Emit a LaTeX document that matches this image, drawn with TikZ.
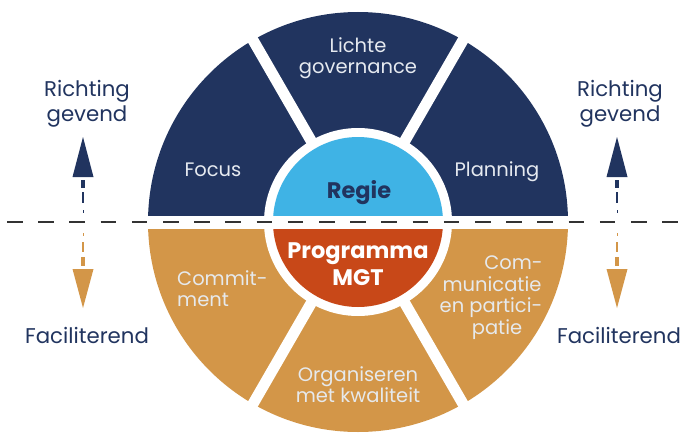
\documentclass[tikz,border=0pt]{standalone}
\usepackage{fontspec}
\setmainfont{Poppins}
\definecolor{navy}{HTML}{21345F}
\definecolor{lblue}{HTML}{3FB3E5}
\definecolor{ored}{HTML}{C84818}
\definecolor{tan}{HTML}{D39648}
\definecolor{ltxt}{HTML}{E6EAF0}
\definecolor{ttxt}{HTML}{E6E9EC}
\definecolor{dashgray}{HTML}{333333}
\begin{document}
\begin{tikzpicture}[x=1pt,y=1pt,
  seclab/.style={font=\fontsize{19.5}{19.5}\selectfont, anchor=base, inner sep=0},
  boldlab/.style={font=\fontsize{22.5}{22.5}\selectfont\bfseries, anchor=base, inner sep=0},
  sidelab/.style={font=\fontsize{21.3}{21.3}\selectfont, text=navy, anchor=base, inner sep=0}]
\useasboundingbox (0,0) rectangle (687,432);
\coordinate (C) at (358,210);
% halves
\begin{scope}
  \clip (0,217) rectangle (687,432);
  \fill[navy] (C) circle (210);
\end{scope}
\begin{scope}
  \clip (0,0) rectangle (687,203);
  \fill[tan] (C) circle (210);
\end{scope}
\foreach \a in {60,120,240,300} \draw[white,line width=11pt] (C) -- ++(\a:215);
\fill[white] (C) circle (94);
\begin{scope}
  \clip (0,217) rectangle (687,432);
  \fill[lblue] (C) circle (85);
\end{scope}
\begin{scope}
  \clip (0,0) rectangle (687,203);
  \fill[ored] (C) circle (85);
\end{scope}
% dashed line
\coordinate (dl) at (7,210);
\coordinate (dr) at (678,210);
\draw[dashgray, line width=2pt, dash pattern=on 15.5pt off 15.7pt] (dl) -- (dr);
% sector labels
\node[seclab, text=ltxt] (l1) at (358,379) {Lichte};
\node[seclab, text=ltxt] (l2) at (358,358) {governance};
\node[seclab, text=ltxt] (foc) at (213,256) {Focus};
\node[seclab, text=ltxt] (pla) at (497,256) {Planning};
\node[boldlab, text=navy] (reg) at (359,234) {Regie};
\node[boldlab, text=white] (pr1) at (358,173.7) {Programma};
\node[boldlab, text=white] (pr2) at (358,147) {MGT};
\node[seclab, text=ttxt, anchor=base west] (co1) at (177,147) {Commit-};
\node[seclab, text=ttxt, anchor=base west] (co2) at (177,125.3) {ment};
\node[seclab, text=ttxt] (cm1) at (513.5,162.7) {Com-};
\node[seclab, text=ttxt] (cm2) at (492,141) {municatie};
\node[seclab, text=ttxt] (cm3) at (491,119.3) {en partici-};
\node[seclab, text=ttxt] (cm4) at (497,98) {patie};
\node[seclab, text=ttxt] (or1) at (358,51) {Organiseren};
\node[seclab, text=ttxt] (or2) at (358,29.3) {met kwaliteit};
% side labels
\node[sidelab] (rl1) at (87,336) {Richting};
\node[sidelab] (rl2) at (87,311) {gevend};
\node[sidelab] (fl) at (87,89) {Faciliterend};
\node[sidelab] (rr1) at (620,336) {Richting};
\node[sidelab] (rr2) at (620,311) {gevend};
\node[sidelab] (fr) at (619,89) {Faciliterend};
% arrows
\foreach \x in {83,617}{
  \fill[navy] (\x,295) -- (\x-10.5,255) -- (\x+10.5,255) -- cycle;
  \fill[navy] (\x-2.3,252) rectangle (\x+2.3,244);
  \fill[navy] (\x-1.3,240) rectangle (\x+1.3,229);
  \fill[navy] (\x-0.5,222) rectangle (\x+0.5,219);
  \fill[tan] (\x,124) -- (\x-10.5,163) -- (\x+10.5,163) -- cycle;
  \fill[tan] (\x-2.3,166) rectangle (\x+2.3,175);
  \fill[tan] (\x-1.3,180) rectangle (\x+1.3,190);
  \fill[tan] (\x-0.5,196) rectangle (\x+0.5,199);
}
\end{tikzpicture}
\end{document}
